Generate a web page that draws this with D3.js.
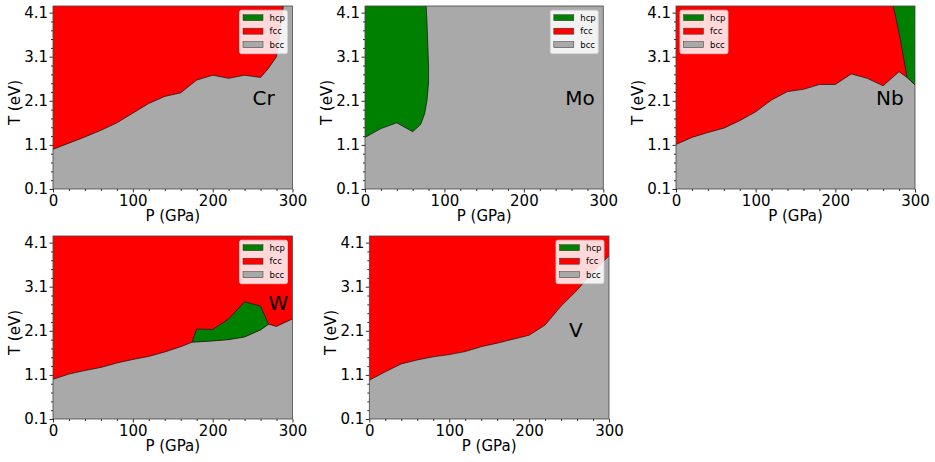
<!DOCTYPE html>
<html>
<head>
<meta charset="utf-8">
<script src="https://d3js.org/d3.v7.min.js"></script>
<style>
  body { margin: 0; background: #fff; }
  svg text { font-family: "DejaVu Sans", sans-serif; fill: #000; }
</style>
</head>
<body>
<div id="chart"></div>
<script>
// ticks
var pTicks = [0, 100, 200, 300];
var tTicks = [0.1, 1.1, 2.1, 3.1, 4.1];
var T_MAX = 4.25;

// Cr: fcc / bcc boundary
var crP = [0, 20, 40, 60, 80, 100, 120, 140, 160, 180, 200, 220, 240, 260, 270, 280, 288.5];
var crT = [1.0, 1.14, 1.28, 1.43, 1.6, 1.82, 2.04, 2.2, 2.28, 2.57, 2.68, 2.61, 2.68, 2.63, 2.84, 3.1, 4.25];

// Mo: hcp / bcc boundary
var moP = [0, 20, 40, 60, 70, 75, 78, 80, 80, 79, 78, 77];
var moT = [1.27, 1.47, 1.6, 1.4, 1.56, 1.8, 2.1, 2.5, 2.9, 3.4, 3.9, 4.25];

// Nb: fcc / bcc boundary and fcc / hcp boundary
var nbP = [0, 20, 40, 60, 80, 100, 120, 140, 160, 180, 200, 220, 240, 260, 280, 290, 300];
var nbT = [1.11, 1.27, 1.38, 1.48, 1.65, 1.85, 2.12, 2.31, 2.36, 2.47, 2.47, 2.71, 2.61, 2.44, 2.76, 2.63, 2.46];
var nbHcpP = [272.7, 277, 281, 290];
var nbHcpT = [4.25, 3.9, 3.55, 2.63];

// W: bcc boundary and upper hcp edge
var wP = [0, 20, 40, 60, 80, 100, 120, 140, 160, 174, 200, 220, 240, 260, 270, 280, 300];
var wT = [1.0, 1.12, 1.2, 1.27, 1.37, 1.45, 1.52, 1.62, 1.74, 1.84, 1.87, 1.9, 1.96, 2.12, 2.25, 2.2, 2.37];
var wHcpP = [174, 180, 200, 220, 240, 260, 270];
var wHcpT = [1.84, 2.14, 2.13, 2.37, 2.76, 2.66, 2.25];

// V: fcc / bcc boundary
var vP = [0, 20, 40, 60, 80, 100, 120, 140, 160, 180, 200, 220, 240, 260, 280, 300];
var vT = [0.98, 1.17, 1.35, 1.44, 1.51, 1.56, 1.63, 1.74, 1.82, 1.91, 2.0, 2.23, 2.66, 3.02, 3.44, 3.8];

var phases = ["hcp", "fcc", "bcc"];
var colors = {hcp: "#008000", fcc: "#ff0000", bcc: "#a9a9a9"};

function pts(P, T) { return P.map(function (p, i) { return [p, T[i]]; }); }

var panels = [
  {name: "Cr", x0: 53, x1: 292.5, y0: 6, y1: 189, label: [250, 2.0], legend: "right",
   fcc: function () { return pts(crP, crT).concat([[0, T_MAX]]); },
   hcp: null, lines: [pts(crP, crT)]},
  {name: "Mo", x0: 365, x1: 603.3, y0: 6, y1: 189, label: [252, 2.0], legend: "right",
   fcc: null,
   hcp: function () { return pts(moP, moT).concat([[0, T_MAX]]); },
   lines: [pts(moP, moT)]},
  {name: "Nb", x0: 676, x1: 915, y0: 6, y1: 189, label: [251, 2.0], legend: "left",
   fcc: function () { return pts(nbP, nbT).concat([[300, T_MAX], [0, T_MAX]]); },
   hcp: function () {
     var lo = pts(nbP, nbT).filter(function (d) { return d[0] > 290; });
     return pts(nbHcpP, nbHcpT).concat(lo, [[300, T_MAX]]);
   },
   lines: [pts(nbP, nbT), pts(nbHcpP, nbHcpT)]},
  {name: "W", x0: 53, x1: 292.5, y0: 236, y1: 419, label: [270, 2.58], legend: "right",
   fcc: function () { return pts(wP, wT).concat([[300, T_MAX], [0, T_MAX]]); },
   hcp: function () {
     var lo = pts(wP, wT).filter(function (d) { return d[0] > 174 && d[0] < 270; }).reverse();
     return pts(wHcpP, wHcpT).concat(lo);
   },
   lines: [pts(wP, wT), pts(wHcpP, wHcpT)]},
  {name: "V", x0: 369.3, x1: 609, y0: 236, y1: 419, label: [250, 1.97], legend: "right",
   fcc: function () { return pts(vP, vT).concat([[300, T_MAX], [0, T_MAX]]); },
   hcp: null, lines: [pts(vP, vT)]}
];

var svg = d3.select("#chart").append("svg")
  .attr("width", 935)
  .attr("height", 462);

panels.forEach(function (pn, k) {
  var x = d3.scaleLinear().domain([0, 300]).range([pn.x0, pn.x1]);
  var y = d3.scaleLinear().domain([0.1, T_MAX]).range([pn.y1, pn.y0]);
  var g = svg.append("g");
  var clipId = "clip" + k;
  g.append("clipPath").attr("id", clipId).append("rect")
    .attr("x", pn.x0).attr("y", pn.y0)
    .attr("width", pn.x1 - pn.x0).attr("height", pn.y1 - pn.y0);

  var plot = g.append("g").attr("clip-path", "url(#" + clipId + ")");
  var line = d3.line().x(function (d) { return x(d[0]); }).y(function (d) { return y(d[1]); });

  // bcc background
  plot.append("rect")
    .attr("x", pn.x0).attr("y", pn.y0)
    .attr("width", pn.x1 - pn.x0).attr("height", pn.y1 - pn.y0)
    .attr("fill", colors.bcc);
  if (pn.fcc) plot.append("path").attr("d", line(pn.fcc()) + "Z").attr("fill", colors.fcc);
  if (pn.hcp) plot.append("path").attr("d", line(pn.hcp()) + "Z").attr("fill", colors.hcp);
  pn.lines.forEach(function (l) {
    plot.append("path").attr("d", line(l))
      .attr("fill", "none").attr("stroke", "#111").attr("stroke-width", 0.7);
  });

  // frame
  g.append("rect")
    .attr("x", pn.x0).attr("y", pn.y0)
    .attr("width", pn.x1 - pn.x0).attr("height", pn.y1 - pn.y0)
    .attr("fill", "none").attr("stroke", "#444").attr("stroke-width", 0.8);

  // x axis
  var xAxis = d3.axisBottom(x).tickValues(pTicks).tickSize(3.5).tickPadding(2.5)
    .tickFormat(d3.format("d"));
  var xMinor = d3.axisBottom(x).tickValues(d3.range(20, 300, 20).filter(function (v) { return v % 100; }))
    .tickSize(2).tickFormat("");
  var ax = g.append("g").attr("transform", "translate(0," + pn.y1 + ")").call(xAxis);
  g.append("g").attr("transform", "translate(0," + pn.y1 + ")").call(xMinor)
    .select(".domain").remove();
  ax.select(".domain").remove();
  ax.selectAll("text").attr("font-size", 15).attr("font-family", "DejaVu Sans");

  // y axis
  var yAxis = d3.axisLeft(y).tickValues(tTicks).tickSize(3.5).tickPadding(1.5)
    .tickFormat(d3.format(".1f"));
  var minorT = d3.range(0, 21).map(function (i) { return +(0.1 + i * 0.2).toFixed(1); })
    .filter(function (v) { return tTicks.indexOf(v) < 0 && v < T_MAX; });
  var yMinor = d3.axisLeft(y).tickValues(minorT).tickSize(2).tickFormat("");
  var ay = g.append("g").attr("transform", "translate(" + pn.x0 + ",0)").call(yAxis);
  g.append("g").attr("transform", "translate(" + pn.x0 + ",0)").call(yMinor)
    .select(".domain").remove();
  ay.select(".domain").remove();
  ay.selectAll("text").attr("font-size", 15).attr("font-family", "DejaVu Sans");
  g.selectAll(".tick line").attr("stroke", "#333");

  // axis titles
  g.append("text")
    .attr("x", (pn.x0 + pn.x1) / 2).attr("y", pn.y1 + 32)
    .attr("text-anchor", "middle").attr("font-size", 15)
    .text("P (GPa)");
  g.append("text")
    .attr("transform", "translate(" + (pn.x0 - 33) + "," + ((pn.y0 + pn.y1) / 2 + 5) + ") rotate(-90)")
    .attr("text-anchor", "middle").attr("font-size", 15)
    .text("T (eV)");

  // element label
  g.append("text")
    .attr("x", x(pn.label[0])).attr("y", y(pn.label[1]))
    .attr("font-size", 20)
    .text(pn.name);

  // legend
  var lw = 48, lh = 43.5;
  var lx = pn.legend === "right" ? pn.x1 - 5 - lw : pn.x0 + 4;
  var ly = pn.y0 + 4.2;
  var leg = g.append("g").attr("transform", "translate(" + lx + "," + ly + ")");
  leg.append("rect").attr("width", lw).attr("height", lh).attr("rx", 2)
    .attr("fill", "#fff").attr("fill-opacity", 0.85)
    .attr("stroke", "#d0d0d0").attr("stroke-width", 0.8);
  phases.forEach(function (ph, i) {
    var cy = 7.5 + i * 13.5;
    leg.append("rect").attr("x", 3.5).attr("y", cy - 3).attr("width", 20).attr("height", 6)
      .attr("fill", colors[ph]).attr("stroke", "#333").attr("stroke-width", 0.5);
    leg.append("text").attr("x", 30).attr("y", cy + 3)
      .attr("font-size", 8.5).text(ph);
  });
});
</script>
</body>
</html>
